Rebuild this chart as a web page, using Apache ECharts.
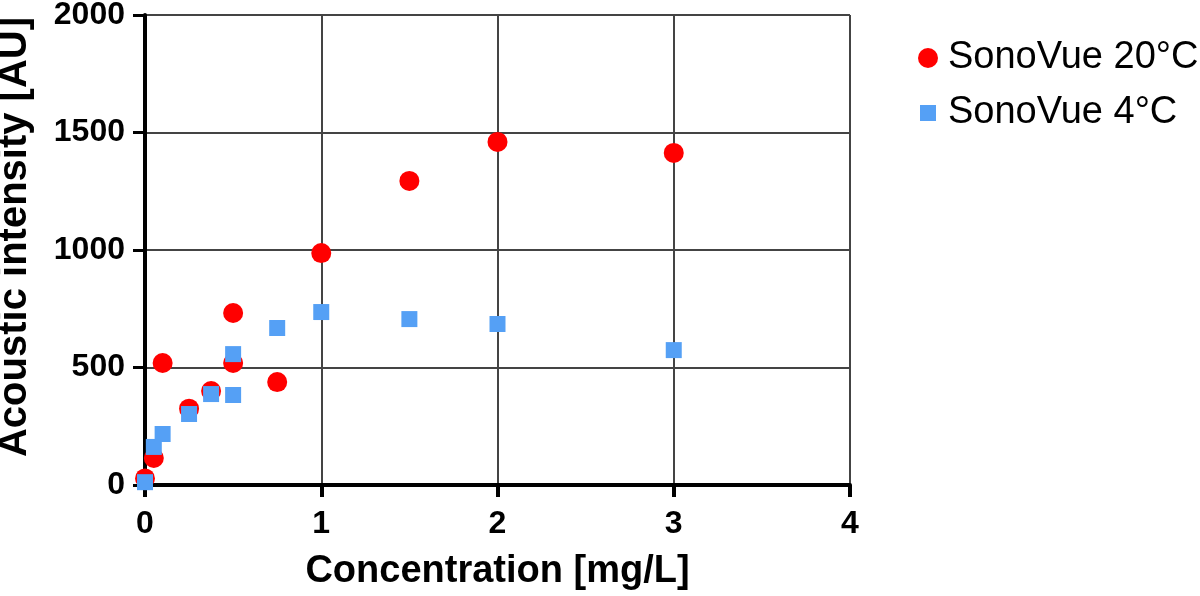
<!DOCTYPE html>
<html>
<head>
<meta charset="utf-8">
<script src="https://cdn.jsdelivr.net/npm/echarts@6/dist/echarts.min.js"></script>
<style>
html,body{margin:0;padding:0;background:#fff;}
#chart{width:1200px;height:596px;}
</style>
</head>
<body>
<div id="chart"></div>
<script>
// Data
var seriesNames = ['SonoVue 20°C', 'SonoVue 4°C'];
var conc20 = [0, 0.05, 0.1, 0.25, 0.375, 0.5, 0.5, 0.75, 1, 1.5, 2, 3];
var intensity20 = [28, 115, 519, 325, 400, 519, 732, 438, 987, 1294, 1460, 1413];
var conc4 = [0, 0.05, 0.1, 0.25, 0.375, 0.5, 0.5, 0.75, 1, 1.5, 2, 3];
var intensity4 = [12, 162, 217, 302, 387, 557, 383, 668, 736, 706, 685, 574];
var xTicks = [0, 1, 2, 3, 4];
var yTicks = [0, 500, 1000, 1500, 2000];

function pairs(xs, ys) { return xs.map(function (x, i) { return [x, ys[i]]; }); }

var FONT = 'Liberation Sans, Arial, Helvetica, sans-serif';
var chart = echarts.init(document.getElementById('chart'), null, {renderer: 'canvas'});
chart.setOption({
  animation: false,
  backgroundColor: '#ffffff',
  grid: {left: 145, right: 350, top: 15, bottom: 111, containLabel: false, outerBoundsMode: 'none'},
  legend: [
    {
      data: [{name: seriesNames[0], icon: 'circle'}],
      orient: 'vertical', left: 913, top: 34,
      itemWidth: 20, itemHeight: 20,
      textStyle: {fontFamily: FONT, fontSize: 38, color: '#000', padding: [0, 0, 0, 5]}
    },
    {
      data: [{name: seriesNames[1], icon: 'rect'}],
      orient: 'vertical', left: 915, top: 89,
      itemWidth: 16, itemHeight: 16,
      textStyle: {fontFamily: FONT, fontSize: 38, color: '#000', padding: [0, 0, 0, 7]}
    }
  ],
  xAxis: {
    type: 'value', min: xTicks[0], max: xTicks[xTicks.length - 1], interval: 1,
    name: 'Concentration [mg/L]', nameLocation: 'middle', nameGap: 68,
    nameTextStyle: {fontFamily: FONT, fontSize: 38, fontWeight: 'bold', color: '#000'},
    axisLine: {show: true, onZero: false, lineStyle: {color: '#000', width: 4}},
    axisTick: {show: true, length: 12, lineStyle: {color: '#000', width: 4}},
    axisLabel: {margin: 23, fontFamily: FONT, fontSize: 32, fontWeight: 'bold', color: '#000'},
    splitLine: {show: true, lineStyle: {color: '#444', width: 2}}
  },
  yAxis: {
    type: 'value', min: yTicks[0], max: yTicks[yTicks.length - 1], interval: 500,
    name: 'Acoustic intensity [AU]', nameLocation: 'middle', nameGap: 110,
    nameTextStyle: {fontFamily: FONT, fontSize: 40, fontWeight: 'bold', color: '#000', padding: [0, 0, 0, 26]},
    axisLine: {show: true, onZero: false, lineStyle: {color: '#000', width: 4}},
    axisTick: {show: true, length: 12, lineStyle: {color: '#000', width: 3}},
    axisLabel: {margin: 20, fontFamily: FONT, fontSize: 32, fontWeight: 'bold', color: '#000',
      formatter: function (v) { return String(v); }},
    splitLine: {show: true, lineStyle: {color: '#444', width: 2}}
  },
  series: [
    {
      name: seriesNames[0], type: 'scatter', symbol: 'circle', symbolSize: 20,
      itemStyle: {color: '#ff0000', opacity: 1},
      data: pairs(conc20, intensity20), z: 3
    },
    {
      name: seriesNames[1], type: 'scatter', symbol: 'rect', symbolSize: 16,
      itemStyle: {color: '#55a0f5', opacity: 1},
      data: pairs(conc4, intensity4), z: 4
    }
  ]
});
</script>
</body>
</html>
